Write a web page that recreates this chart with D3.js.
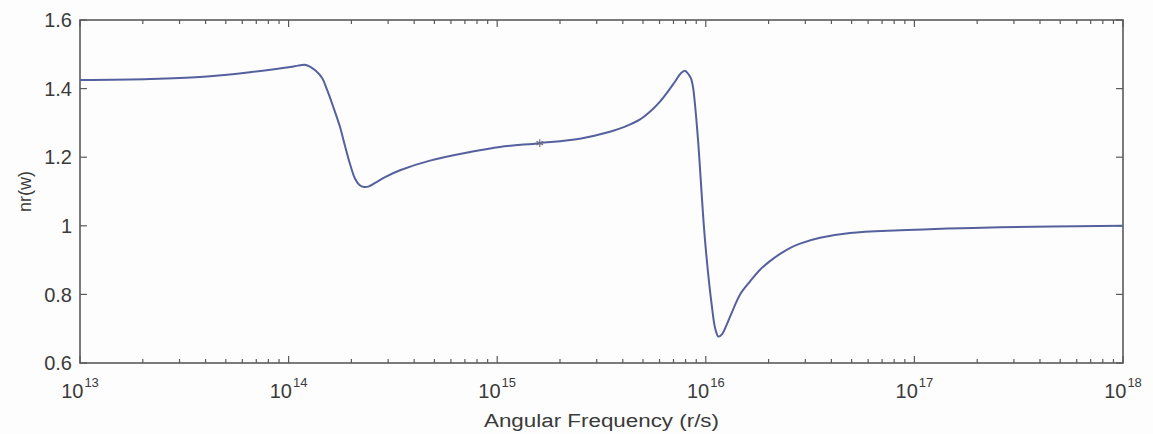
<!DOCTYPE html>
<html>
<head>
<meta charset="utf-8">
<script src="https://cdn.jsdelivr.net/npm/d3@7"></script>
<style>
  html, body { margin: 0; padding: 0; background: #fefdfd; }
  svg { display: block; }
  text { font-family: "Liberation Sans", Arial, Helvetica, sans-serif; fill: #3a3a3a; }
</style>
</head>
<body>
<svg id="chart" width="1153" height="434"></svg>
<script>
// Angular frequency samples (r/s) along the dispersion curve
const frequency = [
  1.00e13, 2.17e13, 3.76e13, 6.53e13, 1.02e14, 1.11e14, 1.21e14, 1.35e14,
  1.45e14, 1.53e14, 1.63e14, 1.76e14, 1.86e14, 1.97e14, 2.08e14, 2.18e14,
  2.30e14, 2.43e14, 2.60e14, 2.90e14, 3.42e14, 4.76e14, 7.41e14, 1.03e15,
  1.60e15, 2.49e15, 3.47e15, 4.10e15, 4.84e15, 5.41e15, 6.03e15, 6.59e15,
  7.11e15, 7.60e15, 7.94e15, 8.30e15, 8.49e15, 8.68e15, 8.87e15, 9.18e15,
  9.91e15, 1.07e16, 1.11e16, 1.15e16, 1.20e16, 1.26e16, 1.35e16, 1.46e16,
  1.63e16, 1.82e16, 2.03e16, 2.27e16, 2.53e16, 2.83e16, 3.53e16, 4.91e16,
  8.53e16, 2.57e17, 1.00e18
];
// Real part of the refractive index nr(w) at each frequency
const nr = [
  1.425, 1.428, 1.434, 1.448, 1.463, 1.467, 1.469, 1.452,
  1.430, 1.396, 1.350, 1.290, 1.235, 1.180, 1.138, 1.120,
  1.113, 1.115, 1.125, 1.142, 1.162, 1.190, 1.215, 1.230,
  1.241, 1.254, 1.274, 1.289, 1.310, 1.333, 1.362, 1.392,
  1.420, 1.445, 1.452, 1.440, 1.430, 1.405, 1.355, 1.250,
  0.959, 0.764, 0.700, 0.677, 0.685, 0.712, 0.755, 0.800,
  0.838, 0.872, 0.897, 0.918, 0.935, 0.948, 0.965, 0.979,
  0.987, 0.996, 1.000
];
// Marked point on the curve
const markerFreq = [1.6e15];
const markerNr = [1.241];

// Axis ticks
const xDecades = [13, 14, 15, 16, 17, 18];
const yTicks = [0.6, 0.8, 1, 1.2, 1.4, 1.6];
const yTickLabels = ["0.6", "0.8", "1", "1.2", "1.4", "1.6"];

const svg = d3.select("#chart");
const plotLeft = 80, plotRight = 1123, plotTop = 20, plotBottom = 363;

const x = d3.scaleLog().domain([1e13, 1e18]).range([plotLeft, plotRight]);
const y = d3.scaleLinear().domain([0.6, 1.6]).range([plotBottom, plotTop]);

const axisColor = "#5a5a5a";

// plot frame
svg.append("rect")
  .attr("x", plotLeft).attr("y", plotTop)
  .attr("width", plotRight - plotLeft).attr("height", plotBottom - plotTop)
  .attr("fill", "none").attr("stroke", axisColor).attr("stroke-width", 1.6);

// x ticks (major + minor) on bottom and top, pointing inward
const minor = [];
xDecades.slice(0, -1).forEach(d => {
  for (let k = 2; k <= 9; k++) minor.push(k * Math.pow(10, d));
});
const major = xDecades.map(d => Math.pow(10, d));
const tickG = svg.append("g").attr("stroke", axisColor).attr("stroke-width", 1.2);
major.forEach(v => {
  tickG.append("line").attr("x1", x(v)).attr("x2", x(v)).attr("y1", plotBottom).attr("y2", plotBottom - 7);
  tickG.append("line").attr("x1", x(v)).attr("x2", x(v)).attr("y1", plotTop).attr("y2", plotTop + 7);
});
minor.forEach(v => {
  tickG.append("line").attr("x1", x(v)).attr("x2", x(v)).attr("y1", plotBottom).attr("y2", plotBottom - 4);
  tickG.append("line").attr("x1", x(v)).attr("x2", x(v)).attr("y1", plotTop).attr("y2", plotTop + 4);
});
// y ticks left and right
yTicks.forEach(v => {
  tickG.append("line").attr("x1", plotLeft).attr("x2", plotLeft + 7).attr("y1", y(v)).attr("y2", y(v));
  tickG.append("line").attr("x1", plotRight).attr("x2", plotRight - 7).attr("y1", y(v)).attr("y2", y(v));
});

// x tick labels: 10 with superscript exponent
xDecades.forEach(d => {
  const t = svg.append("text")
    .attr("x", x(Math.pow(10, d)))
    .attr("y", 398)
    .attr("text-anchor", "middle")
    .style("font-size", "20px");
  t.append("tspan").text("10");
  t.append("tspan").attr("dx", 1).attr("dy", -11.5).style("font-size", "13px").text(String(d));
});

// y tick labels
yTicks.forEach((v, i) => {
  svg.append("text")
    .attr("x", 72)
    .attr("y", y(v))
    .attr("dy", "0.36em")
    .attr("text-anchor", "end")
    .style("font-size", "20px")
    .text(yTickLabels[i]);
});

// axis titles
svg.append("text")
  .attr("x", (plotLeft + plotRight) / 2)
  .attr("y", 427)
  .attr("text-anchor", "middle")
  .attr("textLength", 235)
  .attr("lengthAdjust", "spacingAndGlyphs")
  .style("font-size", "18px")
  .text("Angular Frequency (r/s)");

svg.append("text")
  .attr("transform", `translate(31, ${(plotTop + plotBottom) / 2}) rotate(-90)`)
  .attr("text-anchor", "middle")
  .style("font-size", "18px")
  .text("nr(w)");

// the curve
const pts = frequency.map((f, i) => [f, nr[i]]);
const line = d3.line()
  .x(d => x(d[0]))
  .y(d => y(d[1]))
  .curve(d3.curveCatmullRom.alpha(0.5));

svg.append("path")
  .datum(pts)
  .attr("d", line)
  .attr("fill", "none")
  .attr("stroke", "#55609e")
  .attr("stroke-width", 2);

// marker
const sym = d3.symbolAsterisk || d3.symbolCross;
markerFreq.forEach((f, i) => {
  svg.append("path")
    .attr("transform", `translate(${x(f)}, ${y(markerNr[i])})`)
    .attr("d", d3.symbol().type(sym).size(40)())
    .attr("fill", "none")
    .attr("stroke", "#6a6a80")
    .attr("stroke-width", 1.2);
});
</script>
</body>
</html>
